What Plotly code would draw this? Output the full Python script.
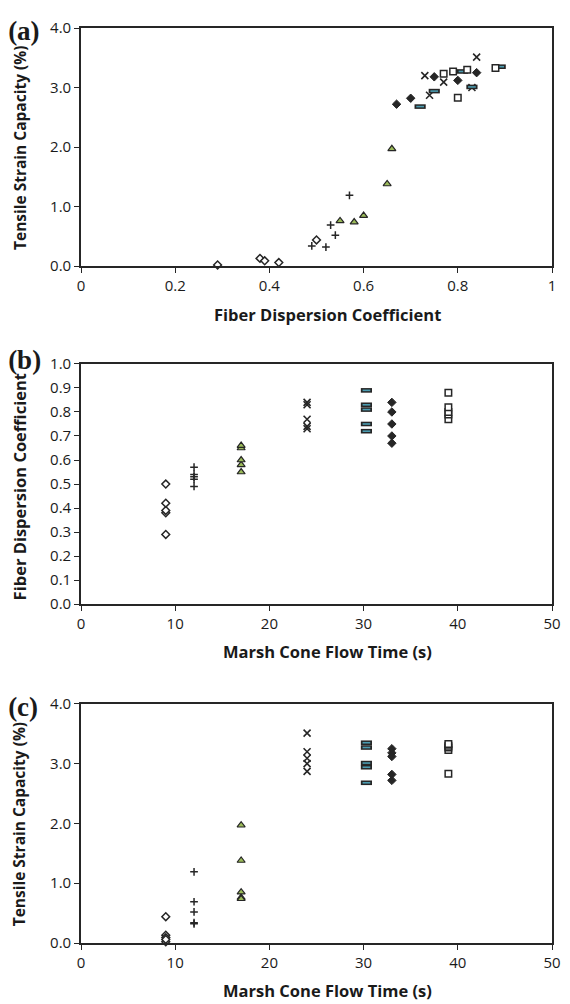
import plotly.graph_objects as go

# ---------------- data ----------------
flow_times = [9, 12, 17, 24, 30.3, 33, 39]          # Marsh cone flow time (s)
dispersion = [                                       # fiber dispersion coefficient
    [0.29, 0.38, 0.39, 0.42, 0.50],
    [0.49, 0.52, 0.53, 0.54, 0.57],
    [0.55, 0.58, 0.60, 0.65, 0.66],
    [0.73, 0.74, 0.77, 0.83, 0.84],
    [0.72, 0.75, 0.81, 0.83, 0.89],
    [0.67, 0.70, 0.75, 0.80, 0.84],
    [0.77, 0.79, 0.80, 0.82, 0.88],
]
tensile = [                                          # tensile strain capacity (%)
    [0.02, 0.13, 0.09, 0.06, 0.44],
    [0.34, 0.32, 0.69, 0.52, 1.19],
    [0.76, 0.74, 0.85, 1.38, 1.97],
    [3.20, 2.87, 3.09, 3.00, 3.51],
    [2.68, 2.94, 3.27, 3.01, 3.35],
    [2.72, 2.82, 3.18, 3.12, 3.25],
    [3.23, 3.27, 2.83, 3.30, 3.33],
]
x_ticks_a = [0, 0.2, 0.4, 0.6, 0.8, 1]
x_ticks_bc = [0, 10, 20, 30, 40, 50]
panel_letters = ["(a)", "(b)", "(c)"]

# ---------------- styles ----------------
INK = "#262626"
styles = [
    [dict(symbol="diamond", size=6, color="white", line=dict(color=INK, width=1.5))],
    [dict(symbol="cross-thin", size=5.5, color=INK, line=dict(color=INK, width=1.5))],
    [dict(symbol="triangle-up", size=7, color="#9BBB59", line=dict(color=INK, width=1.2))],
    [dict(symbol="x-thin", size=7, color=INK, line=dict(color=INK, width=1.6))],
    [dict(symbol="line-ew", size=8, color=INK, line=dict(color=INK, width=4.6)),
     dict(symbol="line-ew", size=5.5, color="#4a9bb0", line=dict(color="#4a9bb0", width=1.6))],
    [dict(symbol="diamond", size=6.5, color=INK, line=dict(color=INK, width=1))],
    [dict(symbol="square", size=6.5, color="white", line=dict(color=INK, width=1.5))],
]

fig = go.Figure()
panels = [("x", "y"), ("x2", "y2"), ("x3", "y3")]
for g in range(len(flow_times)):
    times = [flow_times[g]] * len(dispersion[g])
    data_sets = [(dispersion[g], tensile[g]), (times, dispersion[g]), (times, tensile[g])]
    for (xa, ya), (xs, ys) in zip(panels, data_sets):
        for mk in styles[g]:
            fig.add_trace(go.Scatter(x=xs, y=ys, mode="markers", marker=mk,
                                     xaxis=xa, yaxis=ya, cliponaxis=False,
                                     showlegend=False, hoverinfo="skip"))

FONT = "Open Sans"
TICKFONT = dict(family=FONT, size=15, color="#1a1a1a")


def axis_common():
    return dict(showline=True, linecolor=INK, linewidth=1.6, mirror=True,
                ticks="outside", ticklen=5, tickwidth=1.3, tickcolor=INK,
                showgrid=False, zeroline=False, tickfont=TICKFONT, fixedrange=True)


# the page body has an 8px margin, so lay out in a 562x996 figure
OFF = 8
W, H = 570 - OFF, 1004 - OFF
T_REF, B_REF = 17, 943          # reference pixel rows of plot top / bottom
L_REF, R_REF = 81, 559          # reference pixel cols of plot left / right
ML, MT = L_REF - OFF, T_REF - OFF
MB = H - (B_REF - OFF)
MR = W - (R_REF - OFF)
PH = H - MT - MB
PW = W - ML - MR


def py(p):  # reference pixel row -> paper
    return (B_REF - p) / PH


def px(p):  # reference pixel col -> paper
    return (p - L_REF) / PW


dom_a = [py(258), py(17)]
dom_b = [py(600), py(357)]
dom_c = [py(943), py(701)]

fig.update_layout(
    width=W, height=H,
    margin=dict(l=ML, r=MR, t=MT, b=MB),
    paper_bgcolor="white", plot_bgcolor="white",
    xaxis=dict(**axis_common(), domain=[0, 1], range=[0, 1], tickvals=x_ticks_a,
               ticktext=[str(v) for v in x_ticks_a], anchor="y"),
    yaxis=dict(**axis_common(), domain=dom_a, range=[0, 4], dtick=1, tickformat=".1f", anchor="x"),
    xaxis2=dict(**axis_common(), domain=[0, 1], range=[0, 50], tickvals=x_ticks_bc, anchor="y2"),
    yaxis2=dict(**axis_common(), domain=dom_b, range=[0, 1], dtick=0.1, tickformat=".1f", anchor="x2"),
    xaxis3=dict(**axis_common(), domain=[0, 1], range=[0, 50], tickvals=x_ticks_bc, anchor="y3"),
    yaxis3=dict(**axis_common(), domain=dom_c, range=[0, 4], dtick=1, tickformat=".1f", anchor="x3"),
)

TITLEFONT = dict(family=FONT, size=16.5, color="#1a1a1a", weight="bold")
YTITLEFONT_T = dict(family=FONT, size=15.5, color="#1a1a1a", weight="bold")
ann = []
x_titles = [("Fiber Dispersion Coefficient", 307), ("Marsh Cone Flow Time (s)", 648),
            ("Marsh Cone Flow Time (s)", 991)]
for text, yp in x_titles:
    ann.append(dict(text=text, xref="paper", yref="paper", x=px(331), y=py(yp),
                    xanchor="center", yanchor="middle", showarrow=False, font=TITLEFONT))
y_titles = [("Tensile Strain Capacity (%)", (19 + 258) / 2, YTITLEFONT_T),
            ("Fiber Dispersion Coefficient", (362 + 600) / 2, TITLEFONT),
            ("Tensile Strain Capacity (%)", (703 + 943) / 2, YTITLEFONT_T)]
for text, yp, fnt in y_titles:
    ann.append(dict(text=text, xref="paper", yref="paper", x=px(19), y=py(yp),
                    xanchor="center", yanchor="middle", textangle=-90,
                    showarrow=False, font=fnt))
fig.update_layout(annotations=ann)

# panel letters as shape labels (these never push the margins)
shapes = []
for text, yc in zip(panel_letters, [17, 350, 701]):
    shapes.append(dict(type="rect", xref="paper", yref="paper",
                       x0=px(4), x1=px(60), y0=py(yc + 20), y1=py(yc - 20),
                       line=dict(width=0), fillcolor="rgba(0,0,0,0)",
                       label=dict(text="<b>" + text + "</b>", textposition="middle left",
                                  padding=0,
                                  font=dict(family="Liberation Serif", size=27, color="#1a1a1a"))))
fig.update_layout(shapes=shapes)

fig.write_html("out.html")
